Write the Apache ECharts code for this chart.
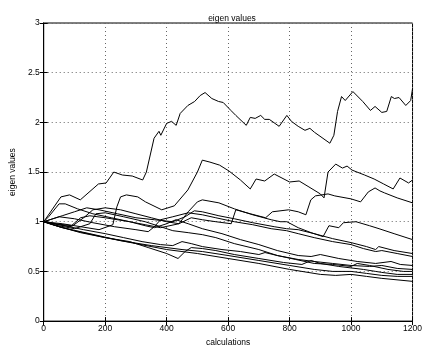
<!DOCTYPE html>
<html>
<head>
<meta charset="utf-8">
<script src="https://cdn.jsdelivr.net/npm/echarts@6/dist/echarts.min.js"></script>
<style>
  html, body { margin: 0; padding: 0; background: #fff; }
  #chart { width: 425px; height: 352px; }
</style>
</head>
<body>
<div id="chart"></div>
<script>
// [calculation, eigen value]
const lineA = [[0,1.0],[56,1.25],[84,1.27],[119,1.22],[178,1.38],[203,1.39],[228,1.5],[256,1.47],[288,1.46],[322,1.42],[334,1.5],[359,1.84],[375,1.91],[381,1.87],[400,1.99],[416,2.01],[431,1.97],[444,2.09],[469,2.17],[491,2.21],[497,2.2],[509,2.27],[525,2.3],[547,2.24],[569,2.21],[584,2.2],[609,2.12],[625,2.07],[659,1.97],[672,2.05],[688,2.04],[706,2.07],[719,2.03],[734,2.03],[766,1.96],[791,2.07],[806,2.01],[828,1.96],[850,1.92],[866,1.94],[881,1.9],[931,1.79],[944,1.87],[956,2.11],[969,2.26],[981,2.22],[1006,2.31],[1038,2.21],[1063,2.12],[1078,2.16],[1100,2.1],[1116,2.11],[1131,2.26],[1141,2.24],[1156,2.25],[1178,2.17],[1194,2.22],[1200,2.34]];
const lineC = [[0,1.0],[60,0.98],[120,0.95],[180,0.92],[225,0.97],[238,1.15],[250,1.25],[269,1.27],[306,1.25],[331,1.2],[384,1.12],[425,1.16],[469,1.32],[500,1.5],[516,1.62],[541,1.6],[572,1.57],[603,1.51],[640,1.42],[672,1.33],[691,1.43],[719,1.41],[750,1.48],[800,1.4],[831,1.41],[863,1.35],[900,1.28],[912,1.24],[925,1.5],[950,1.58],[972,1.54],[987,1.56],[1003,1.52],[1044,1.47],[1075,1.43],[1106,1.38],[1137,1.33],[1159,1.44],[1187,1.39],[1200,1.42]];
const lineE = [[0,1.0],[16,1.05],[50,1.18],[70,1.18],[110,1.13],[160,1.08],[220,1.04],[280,1.0],[330,0.97],[380,0.94],[440,0.98],[480,1.04],[516,1.02],[560,1.0],[610,0.98],[625,1.12],[672,1.08],[722,1.04],[744,1.1],[797,1.12],[828,1.1],[853,1.07],[869,1.22],[884,1.26],[925,1.28],[947,1.26],[1000,1.23],[1031,1.2],[1056,1.3],[1078,1.34],[1094,1.31],[1109,1.29],[1150,1.24],[1200,1.19]];
const lineF = [[0,1.0],[30,0.98],[90,0.95],[130,1.04],[160,1.12],[200,1.14],[250,1.12],[300,1.08],[350,1.04],[400,1.0],[440,0.98],[470,1.1],[500,1.2],[516,1.22],[570,1.19],[620,1.13],[680,1.07],[740,1.02],[770,1.0],[791,1.0],[828,0.94],[870,0.89],[909,0.85],[928,0.96],[960,0.94],[975,0.99],[1016,1.0],[1060,0.96],[1091,0.93],[1140,0.88],[1200,0.82]];
const lineP = [[0,1.0],[30,1.03],[60,1.06],[100,1.1],[140,1.14],[180,1.12],[240,1.08],[300,1.04],[360,1.02],[420,1.0],[460,1.05],[490,1.11],[516,1.1],[570,1.06],[620,1.03],[680,0.99],[750,0.95],[790,0.93],[828,0.92],[880,0.88],[940,0.83],[1000,0.79],[1050,0.75],[1080,0.72],[1090,0.75],[1140,0.71],[1200,0.68]];
const lineQ = [[0,1.0],[20,1.02],[50,1.05],[100,1.03],[160,0.99],[230,0.95],[300,0.92],[340,0.9],[360,0.95],[380,1.02],[420,1.05],[470,1.09],[516,1.07],[560,1.04],[620,1.0],[680,0.97],[740,0.93],[790,0.91],[828,0.88],[880,0.84],[940,0.8],[1000,0.77],[1040,0.73],[1080,0.7],[1100,0.71],[1150,0.68],[1200,0.65]];
const lineR1 = [[0,1.0],[40,0.98],[90,0.96],[120,1.04],[150,1.06],[200,1.04],[280,1.0],[330,0.96],[360,0.94],[400,0.98],[430,1.02],[470,0.98],[516,0.93],[580,0.88],[640,0.82],[700,0.77],[760,0.71],[828,0.66],[870,0.65],[900,0.67],[960,0.63],[1020,0.6],[1080,0.58],[1130,0.6],[1160,0.57],[1200,0.56]];
const lineR2 = [[0,1.0],[30,0.97],[100,0.93],[150,0.98],[170,1.08],[200,1.09],[260,1.05],[330,1.0],[380,0.95],[420,0.91],[470,0.89],[516,0.87],[560,0.84],[620,0.78],[700,0.72],[760,0.66],[828,0.62],[880,0.6],[940,0.58],[1000,0.56],[1060,0.55],[1100,0.56],[1150,0.53],[1200,0.52]];
const lineR3 = [[0,1.0],[50,0.97],[130,0.92],[200,0.88],[260,0.84],[320,0.8],[380,0.77],[420,0.76],[450,0.8],[480,0.78],[516,0.75],[580,0.72],[640,0.7],[700,0.67],[720,0.69],[760,0.66],[820,0.62],[880,0.58],[940,0.57],[1000,0.55],[1020,0.58],[1060,0.56],[1120,0.52],[1170,0.5],[1200,0.5]];
const lineR4 = [[0,1.0],[40,0.96],[120,0.89],[200,0.84],[280,0.8],[340,0.74],[400,0.68],[437,0.63],[460,0.7],[480,0.74],[516,0.73],[560,0.71],[620,0.67],[700,0.63],[780,0.59],[840,0.57],[870,0.61],[900,0.58],[960,0.55],[1040,0.52],[1080,0.5],[1100,0.49],[1150,0.47],[1200,0.47]];
const lineR5 = [[0,1.0],[60,0.94],[150,0.88],[250,0.81],[350,0.76],[450,0.72],[516,0.7],[600,0.66],[700,0.61],[800,0.56],[880,0.52],[940,0.5],[1000,0.5],[1050,0.48],[1100,0.46],[1150,0.45],[1200,0.45]];
const lineR6 = [[0,1.0],[50,0.95],[100,0.91],[200,0.84],[300,0.78],[400,0.72],[500,0.68],[600,0.63],[700,0.58],[800,0.52],[900,0.47],[950,0.46],[1000,0.47],[1050,0.45],[1100,0.43],[1200,0.4]];

const allLines = [lineA, lineC, lineE, lineF, lineP, lineQ, lineR1, lineR2, lineR3, lineR4, lineR5, lineR6];

const chart = echarts.init(document.getElementById("chart"), null, { renderer: "canvas" });

const font = "Liberation Sans";
const tickStyle = { show: true, inside: true, length: 4, lineStyle: { color: "#000" } };
const gridStyle = { show: true, lineStyle: { color: "#666", width: 1, type: [1, 3] } };

chart.setOption({
  animation: false,
  title: {
    text: "eigen values",
    left: 227, top: 9, textAlign: "center",
    textStyle: { fontFamily: font, fontSize: 8.5, fontWeight: "normal", color: "#000" },
  },
  grid: { left: 35, right: 6, top: 23, bottom: 26, show: true, borderColor: "#000", borderWidth: 1 },
  xAxis: [
    {
      type: "value", min: 0, max: 1200, interval: 200,
      name: "calculations", nameLocation: "middle", nameGap: 13,
      nameTextStyle: { fontFamily: font, fontSize: 8.5, color: "#000" },
      axisLine: { show: true, lineStyle: { color: "#000" } },
      axisTick: tickStyle,
      axisLabel: {
        fontFamily: font, fontSize: 8.5, color: "#000", margin: 3,
        alignMinLabel: "center", alignMaxLabel: "center",
        formatter: (v) => String(v),
      },
      splitLine: gridStyle,
    },
    {
      type: "value", min: 0, max: 1200, interval: 200, position: "top",
      axisLine: { show: true, lineStyle: { color: "#000" } },
      axisTick: tickStyle, axisLabel: { show: false }, splitLine: { show: false },
    },
  ],
  yAxis: [
    {
      type: "value", min: 0, max: 3, interval: 0.5,
      name: "eigen values", nameLocation: "middle", nameGap: 17,
      nameTextStyle: { fontFamily: font, fontSize: 8.5, color: "#000" },
      axisLine: { show: true, lineStyle: { color: "#000" } },
      axisTick: tickStyle,
      axisLabel: { fontFamily: font, fontSize: 8.5, color: "#000", margin: 4, formatter: (v) => String(v) },
      splitLine: gridStyle,
    },
    {
      type: "value", min: 0, max: 3, interval: 0.5, position: "right",
      axisLine: { show: true, lineStyle: { color: "#000" } },
      axisTick: tickStyle, axisLabel: { show: false }, splitLine: { show: false },
    },
  ],
  series: allLines.map((d) => ({
    type: "line",
    data: d,
    showSymbol: false,
    lineStyle: { color: "#000", width: 1 },
    silent: true,
  })),
});
</script>
</body>
</html>
